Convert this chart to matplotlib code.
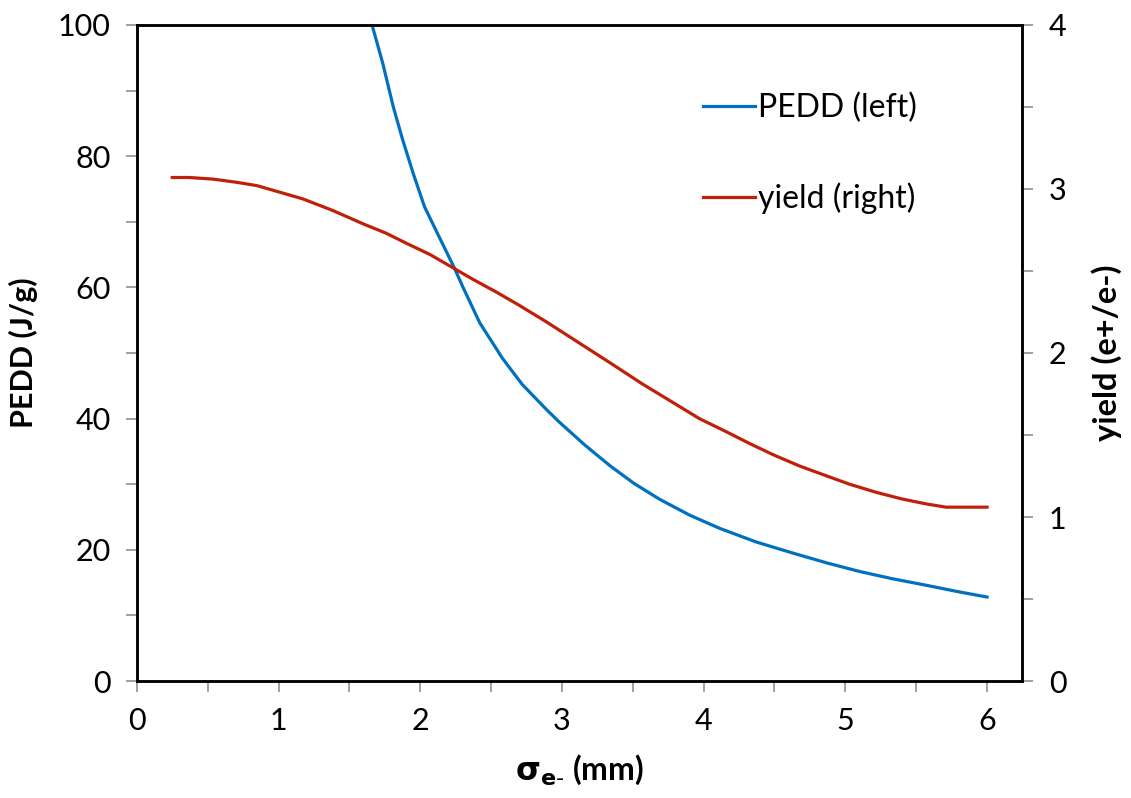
import matplotlib.pyplot as plt
from matplotlib.ticker import MultipleLocator

# values
sigma_pedd = [1.66, 1.735, 1.81, 1.876, 1.95, 2.03, 2.12, 2.19, 2.24, 2.30,
              2.42, 2.58, 2.72, 2.89, 2.98, 3.16, 3.34, 3.51, 3.69, 3.90,
              4.11, 4.37, 4.63, 4.87, 5.10, 5.33, 5.57, 5.80, 6.00]
pedd = [100.0, 94.2, 87.5, 82.5, 77.4, 72.3, 68.3, 65.2, 63.0, 60.1,
        54.6, 49.2, 45.2, 41.4, 39.5, 36.0, 32.8, 30.1, 27.7, 25.3,
        23.3, 21.2, 19.5, 18.0, 16.7, 15.6, 14.6, 13.6, 12.8]

sigma_yield = [0.25, 0.37, 0.54, 0.71, 0.85, 1.01, 1.17, 1.38, 1.59, 1.76,
               1.90, 2.07, 2.23, 2.37, 2.54, 2.70, 2.89, 2.98, 3.16, 3.34,
               3.57, 3.78, 3.97, 4.16, 4.32, 4.49, 4.68, 4.87, 5.03, 5.22,
               5.40, 5.57, 5.71, 6.00]
yield_vals = [3.07, 3.07, 3.06, 3.04, 3.02, 2.98, 2.94, 2.87, 2.79, 2.73,
              2.67, 2.60, 2.52, 2.45, 2.37, 2.29, 2.19, 2.14, 2.04, 1.94,
              1.81, 1.70, 1.60, 1.52, 1.45, 1.38, 1.31, 1.25, 1.20, 1.15,
              1.11, 1.08, 1.06, 1.06]

plt.rcParams['font.family'] = ['Lato', 'DejaVu Sans']

fig = plt.figure(figsize=(11.31, 7.98), dpi=100)
ax = fig.add_axes([0.121, 0.1466, 0.783, 0.8221])
ax2 = ax.twinx()

blue = "#0070C0"
red = "#C0200A"

l1, = ax.plot(sigma_pedd, pedd, color=blue, lw=2.3, label="PEDD (left)")
l2, = ax2.plot(sigma_yield, yield_vals, color=red, lw=2.3, label="yield (right)")

ax.set_xlim(0, 6.25)
ax.set_ylim(0, 100)
ax2.set_ylim(0, 4)

ax.xaxis.set_major_locator(MultipleLocator(1))
ax.xaxis.set_minor_locator(MultipleLocator(0.5))
ax.yaxis.set_major_locator(MultipleLocator(20))
ax.yaxis.set_minor_locator(MultipleLocator(10))
ax2.yaxis.set_major_locator(MultipleLocator(1))
ax2.yaxis.set_minor_locator(MultipleLocator(0.5))

for a in (ax, ax2):
    for s in a.spines.values():
        s.set_linewidth(1.8)
        s.set_color("black")
    a.tick_params(which="both", direction="out", length=8, width=1.2,
                  color="#909090", labelsize=22, pad=11)

ax.set_ylabel("PEDD (J/g)", fontsize=22, fontweight="bold", labelpad=14)
ax2.set_ylabel("yield (e+/e-)", fontsize=23.5, fontweight="bold", labelpad=18)
ax.set_xlabel(r"$\mathbf{\sigma_{e\text{-}}}$ (mm)", fontsize=23,
              fontweight="bold", labelpad=12)

ax.legend(handles=[l1, l2], loc="upper right", bbox_to_anchor=(0.913, 0.94),
          frameon=False, fontsize=23, handlelength=1.6, handletextpad=0.1,
          labelspacing=1.85)

fig.savefig("out.png", dpi=100)
